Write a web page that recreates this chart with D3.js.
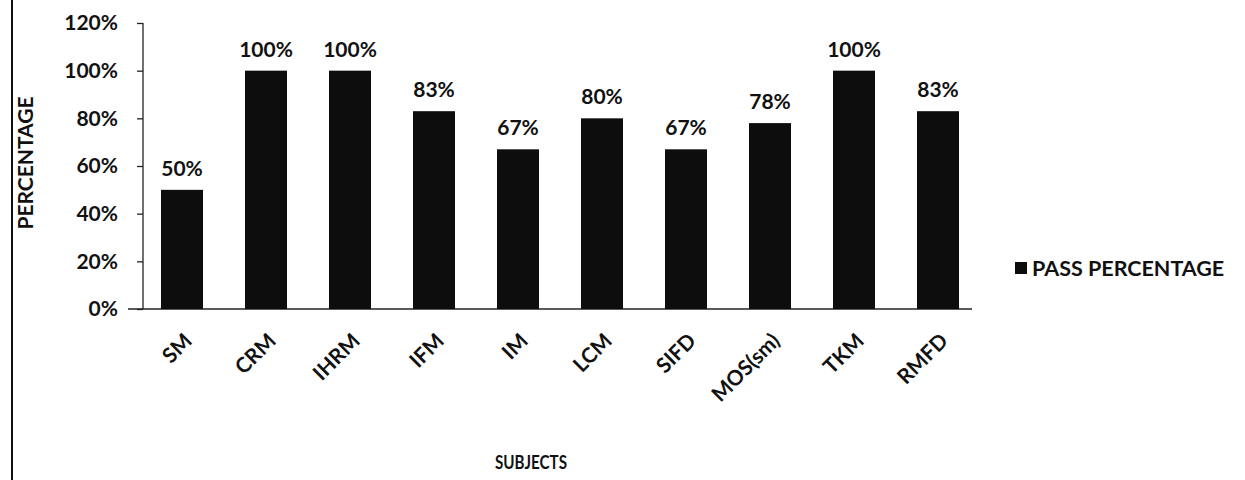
<!DOCTYPE html>
<html><head><meta charset="utf-8">
<script src="https://cdn.jsdelivr.net/npm/d3@7/dist/d3.min.js"></script>
<style>body{margin:0;background:#fff;} svg{display:block;} text{font-family:Lato,"Open Sans",sans-serif;font-weight:bold;fill:#111;}</style>
</head><body><svg id="c" width="1245" height="480"></svg>
<script>
const categories = ["SM","CRM","IHRM","IFM","IM","LCM","SIFD","MOS(sm)","TKM","RMFD"];
const passPercentage = [50,100,100,83,67,80,67,78,100,83];
const yTicks = [0,20,40,60,80,100,120];
const seriesName = "PASS PERCENTAGE";

const svg = d3.select("#c");
const x = d3.scaleBand().domain(categories).range([140,980]).paddingInner(0.5).paddingOuter(0.25);
const y = d3.scaleLinear().domain([0,120]).range([309,23]);

// left border line
svg.append("line").attr("x1",12).attr("x2",12).attr("y1",0).attr("y2",480).attr("stroke","#111").attr("stroke-width",2);

// y axis
const yAxis = d3.axisLeft(y).tickValues(yTicks).tickFormat(d=>d+"%").tickSize(6).tickPadding(19);
const gy = svg.append("g").attr("transform","translate(143,0)").call(yAxis);
gy.select(".domain").attr("stroke","#222").attr("stroke-width",1.3).attr("d","M0,"+y(120)+"V"+y(0));
gy.selectAll(".tick line").attr("stroke","#222").attr("stroke-width",1.3);
gy.selectAll(".tick text").style("font-size","21px").style("font-family","Lato, sans-serif").style("font-weight","bold").attr("fill","#111");

// baseline
svg.append("line").attr("x1",128).attr("x2",972).attr("y1",y(0)).attr("y2",y(0)).attr("stroke","#222").attr("stroke-width",1.5);

// bars
svg.selectAll("rect.bar").data(categories).enter().append("rect").attr("class","bar")
  .attr("x",d=>x(d)).attr("width",x.bandwidth())
  .attr("y",(d,i)=>y(passPercentage[i])).attr("height",(d,i)=>y(0)-y(passPercentage[i]))
  .attr("fill","#0d0d0d");

// value labels
svg.selectAll("text.val").data(categories).enter().append("text").attr("class","val")
  .attr("x",d=>x(d)+x.bandwidth()/2).attr("y",(d,i)=>y(passPercentage[i])-14)
  .attr("text-anchor","middle").style("font-size","21px")
  .text((d,i)=>passPercentage[i]+"%");

// x labels
svg.selectAll("text.xl").data(categories).enter().append("text").attr("class","xl")
  .attr("transform",d=>"translate("+(x(d)+x.bandwidth()/2+6)+","+(y(0)+28)+") rotate(-45)")
  .attr("text-anchor","end").attr("dy","0.35em").style("font-size","21px")
  .text(d=>d);

// axis titles
svg.append("text").attr("transform","translate(33,163) rotate(-90)").attr("text-anchor","middle")
  .style("font-size","21px").text("PERCENTAGE");
svg.append("text").attr("x",495).attr("y",469).attr("textLength",72).attr("lengthAdjust","spacingAndGlyphs")
  .style("font-size","19px").text("SUBJECTS");

// legend
svg.append("rect").attr("x",1015).attr("y",262).attr("width",12).attr("height",12).attr("fill","#0d0d0d");
svg.append("text").attr("x",1032).attr("y",276).style("font-size","21.5px").text(seriesName);
</script></body></html>
